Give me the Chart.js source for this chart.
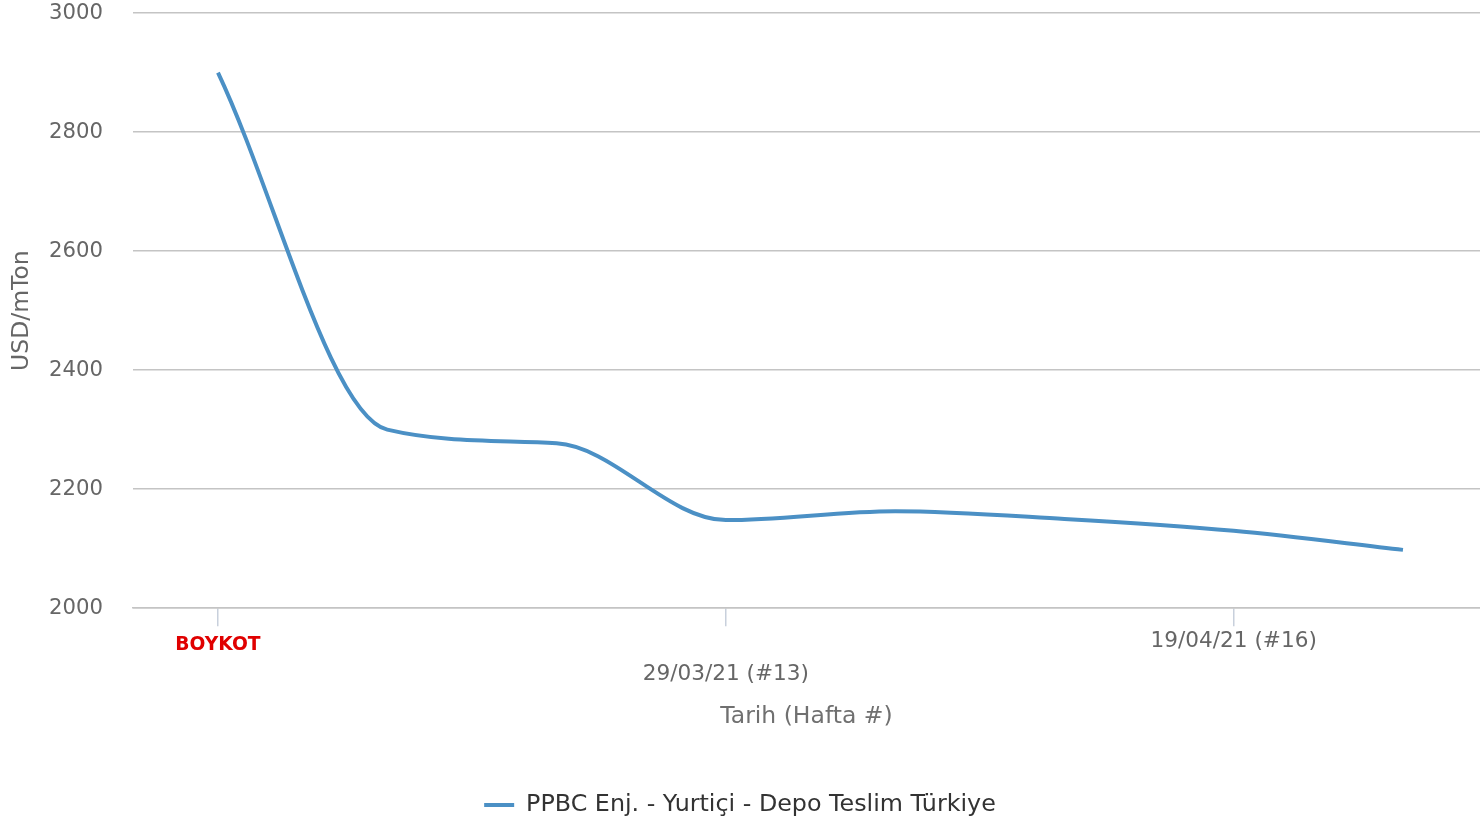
<!DOCTYPE html>
<html>
<head>
<meta charset="utf-8">
<script src="https://cdn.jsdelivr.net/npm/chart.js@4.4.1/dist/chart.umd.min.js"></script>
<style>
  html, body { margin: 0; padding: 0; background: #fff; overflow: hidden; }
  #wrap { width: 1480px; height: 823px; position: relative; }
</style>
</head>
<body>
<div id="wrap"><canvas id="price-chart"></canvas></div>
<script>
// weeks (index 0 is the boycott week)
const weeks = ['BOYKOT', '15/03/21 (#11)', '22/03/21 (#12)', '29/03/21 (#13)',
               '05/04/21 (#14)', '12/04/21 (#15)', '19/04/21 (#16)', '26/04/21 (#17)'];
const prices = [2900, 2300, 2277, 2148, 2163, 2150, 2130, 2098];
const tickWeeks = [0, 3, 6];
const yTicks = [2000, 2200, 2400, 2600, 2800, 3000];
const seriesName = 'PPBC Enj. - Yurtiçi - Depo Teslim Türkiye';

const lineColor = '#4b90c5';
Chart.defaults.font.family = "'DejaVu Sans', sans-serif";

function noScalePadding(s) {
    s.paddingTop = 0;
    s.paddingBottom = 0;
    s.paddingLeft = 0;
    s.paddingRight = 0;
}

const priceChart = new Chart(document.getElementById('price-chart').getContext('2d'), {
    type: 'line',
    data: {
        datasets: [{
            label: seriesName,
            data: prices.map((p, i) => ({x: i, y: p})),
            borderColor: lineColor,
            backgroundColor: lineColor,
            borderWidth: 4,
            pointRadius: 0,
            cubicInterpolationMode: 'monotone',
            fill: false
        }]
    },
    options: {
        responsive: true,
        maintainAspectRatio: false,
        animation: false,
        layout: {padding: {top: 13, left: 0, right: 0, bottom: -4}},
        plugins: {
            tooltip: {enabled: false},
            legend: {
                position: 'bottom',
                labels: {
                    usePointStyle: true,
                    pointStyle: 'line',
                    pointStyleWidth: 30,
                    boxHeight: 24,
                    padding: 4,
                    color: '#333333',
                    font: {size: 23.8}
                }
            }
        },
        scales: {
            x: {
                type: 'linear',
                min: -0.502,
                max: 7.455,
                afterFit: (s) => { s.height = 181; noScalePadding(s); },
                afterBuildTicks: (s) => { s.ticks = tickWeeks.map(v => ({value: v})); },
                grid: {
                    drawOnChartArea: false,
                    drawTicks: true,
                    tickLength: 18,
                    color: '#c8d0dc',
                    lineWidth: 1.5
                },
                border: {display: true, color: '#c4c4c4', width: 1.5},
                ticks: {
                    autoSkip: false,
                    maxRotation: 0,
                    padding: 1,
                    color: (c) => c.index === 0 ? '#e00000' : '#666666',
                    font: (c) => c.index === 0 ? {size: 18.7, weight: 'bold', lineHeight: 1.9}
                        : c.index === 1 ? {size: 21.6, lineHeight: 1.45}
                        : {size: 21.6, lineHeight: 1.296},
                    callback: (v, i) => i === 1 ? ['', weeks[v]] : weeks[v]
                },
                title: {
                    display: true,
                    text: 'Tarih (Hafta #)',
                    color: '#707070',
                    font: {size: 23.5},
                    padding: {top: 0, bottom: 58}
                }
            },
            y: {
                min: 2000,
                max: 3000,
                afterFit: (s) => { s.width = 133; noScalePadding(s); },
                afterBuildTicks: (s) => { s.ticks = yTicks.map(v => ({value: v})); },
                grid: {
                    drawTicks: false,
                    color: '#c4c4c4',
                    lineWidth: 1.5
                },
                border: {display: false},
                ticks: {
                    padding: 30,
                    color: '#666666',
                    font: {size: 21.2},
                    callback: (v) => String(v)
                },
                title: {
                    display: true,
                    text: 'USD/mTon',
                    color: '#666666',
                    font: {size: 23.5},
                    padding: {top: 8, bottom: 8}
                }
            }
        }
    }
});
</script>
</body>
</html>
